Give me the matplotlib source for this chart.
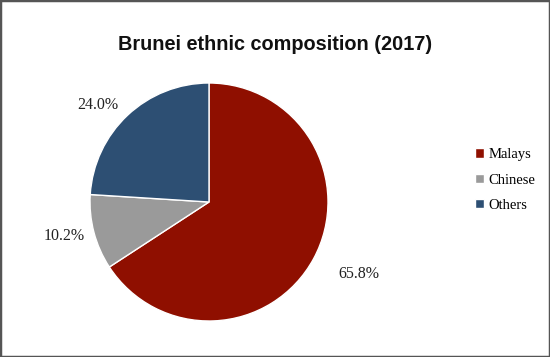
import matplotlib.pyplot as plt
from matplotlib.patches import Rectangle

groups = ["Malays", "Chinese", "Others"]
shares = [65.8, 10.2, 24.0]
colors = ["#8f0f00", "#9a9a9a", "#2d4f73"]
title = "Brunei ethnic composition (2017)"

# where the percentage labels sit (in pie radii), Excel "best fit" style
label_pos = [(1.26, -0.605), (-1.22, -0.286), (-0.933, 0.815)]

fig = plt.figure(figsize=(5.5, 3.57), dpi=100)

# square axes so the pie sits left of centre like the original
ax = fig.add_axes([59 / 550, 5 / 357, 300 / 550, 300 / 357])
wedges, texts, autotexts = ax.pie(
    shares, colors=colors, startangle=90, counterclock=False,
    autopct="%.1f%%", pctdistance=1.2,
    wedgeprops=dict(linewidth=1, edgecolor="white"),
    textprops=dict(family="Liberation Serif", fontsize=11.5, color="#222222"),
)
for t, (x, y) in zip(autotexts, label_pos):
    t.set_position((x, y))
    t.set_ha("center")
    t.set_va("center")

lim = 150 / 119
ax.set_xlim(-lim, lim)
ax.set_ylim(-lim, lim)
ax.set_aspect("equal")

fig.text(0.5, 1 - 45 / 357, title, ha="center", va="center",
         family="Liberation Sans", fontweight="bold", fontsize=14.3, color="#111111")

fig.legend(wedges, groups, loc="center left",
           bbox_to_anchor=(462 / 550, 1 - 180 / 357), frameon=False,
           handlelength=0.6, handleheight=0.6, handletextpad=0.3,
           labelspacing=0.85, prop=dict(family="Liberation Serif", size=10.5))

fig.patches.append(Rectangle((0, 0), 1, 1, transform=fig.transFigure,
                             fill=False, edgecolor="#555555", linewidth=2.5))

fig.savefig("out.png", dpi=100)
